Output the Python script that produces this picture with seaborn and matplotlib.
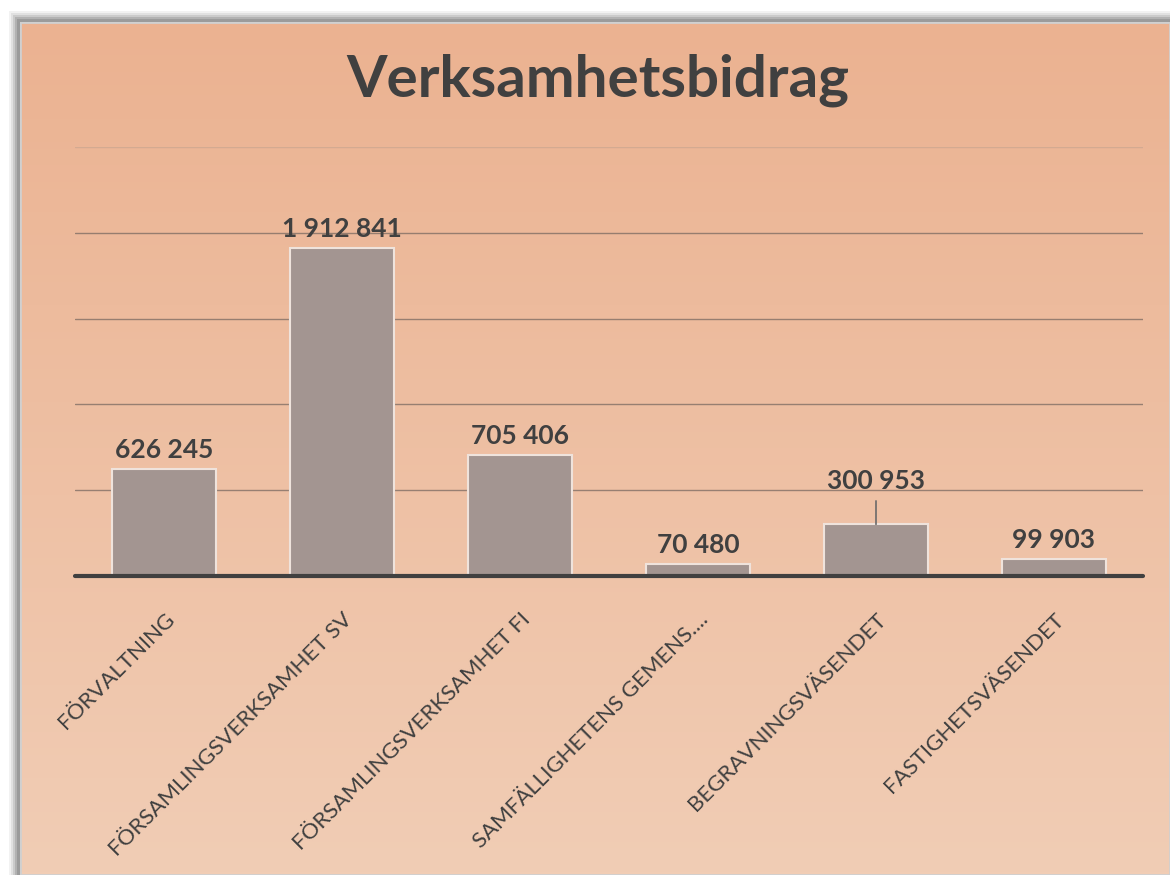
import matplotlib
matplotlib.use("Agg")
import matplotlib.pyplot as plt
import matplotlib.patches as mpatches
import numpy as np
import pandas as pd
import seaborn as sns

# data
categories = ["FÖRVALTNING", "FÖRSAMLINGSVERKSAMHET SV", "FÖRSAMLINGSVERKSAMHET FI",
              "SAMFÄLLIGHETENS GEMENS....", "BEGRAVNINGSVÄSENDET", "FASTIGHETSVÄSENDET"]
values = [626245, 1912841, 705406, 70480, 300953, 99903]
value_labels = ["626 245", "1 912 841", "705 406", "70 480", "300 953", "99 903"]
gridlines = [500000, 1000000, 1500000, 2000000, 2500000]

df = pd.DataFrame({"cat": categories, "val": values})

sns.set_theme(style="white")
plt.rcParams["font.family"] = ["Lato", "DejaVu Sans"]
text_col = "#404040"

fig = plt.figure(figsize=(11.7, 8.75), dpi=100)
fig.patch.set_facecolor("white")

# shadow around the chart area
W, H = 1170, 875
x0, y0 = 20, 22
for i, a in enumerate([0.10, 0.15, 0.22, 0.32, 0.45]):
    off = 11 - 2 * i
    fig.patches.append(mpatches.Rectangle(((x0 - off) / W, 0), 1, (H - y0 + off) / H,
                                          transform=fig.transFigure, color="#808080",
                                          alpha=a, lw=0, zorder=0))

# gradient background
bg = fig.add_axes([x0 / W, 0, 1 - x0 / W, (H - y0) / H], zorder=1)
top = np.array([0xEB, 0xB2, 0x91]) / 255
bot = np.array([0xF1, 0xCD, 0xB5]) / 255
t = np.linspace(0, 1, 256)[:, None]
grad = top[None, :] * (1 - t) + bot[None, :] * t
bg.imshow(grad[:, None, :], aspect="auto", extent=[0, 1, 0, 1])
bg.set_axis_off()
bg.add_patch(mpatches.Rectangle((0, 0), 1, 1, transform=bg.transAxes, fill=False,
                                ec="#d0d0d0", lw=2))

ax = fig.add_axes([75 / W, (H - 576) / H, 1068 / W, (576 - 147) / H], zorder=2)
ax.patch.set_alpha(0)
sns.barplot(data=df, x="cat", y="val", color="#A39591", saturation=1, width=0.58,
            edgecolor="#EFE3DC", linewidth=1.5, ax=ax, zorder=3)
ax.set_ylim(0, 2500000)
ax.set_xlim(-0.5, len(categories) - 0.5)

for g in gridlines:
    c, a = ("#C9A690", 0.7) if g == 2500000 else ("#7A6A62", 0.75)
    ax.axhline(g, color=c, lw=1, alpha=a, zorder=1)
ax.axhline(0, color=text_col, lw=3, zorder=4, clip_on=False)

for s in ax.spines.values():
    s.set_visible(False)
ax.set_yticks([])
ax.set_xlabel("")
ax.set_ylabel("")
ax.tick_params(axis="x", length=0, pad=24)
ax.set_xticks(range(len(categories)))
ax.set_xticklabels(categories, rotation=45, ha="right", rotation_mode="anchor",
                   fontsize=16, color=text_col)

for i, (v, lab) in enumerate(zip(values, value_labels)):
    if i == 4:
        ax.annotate(lab, xy=(i, v), xytext=(i, v + 180000), ha="center", va="bottom",
                    fontsize=19, fontweight="bold", color=text_col,
                    arrowprops=dict(arrowstyle="-", color="#6a6a6a", lw=1.2,
                                    shrinkA=3, shrinkB=0))
    else:
        ax.text(i, v + 40000, lab, ha="center", va="bottom", fontsize=19,
                fontweight="bold", color=text_col)

fig.text(598 / W, 1 - 80 / H, "Verksamhetsbidrag", ha="center", va="center",
         fontsize=42, fontweight="bold", color=text_col, zorder=5)

fig.savefig("out.png", dpi=100)
